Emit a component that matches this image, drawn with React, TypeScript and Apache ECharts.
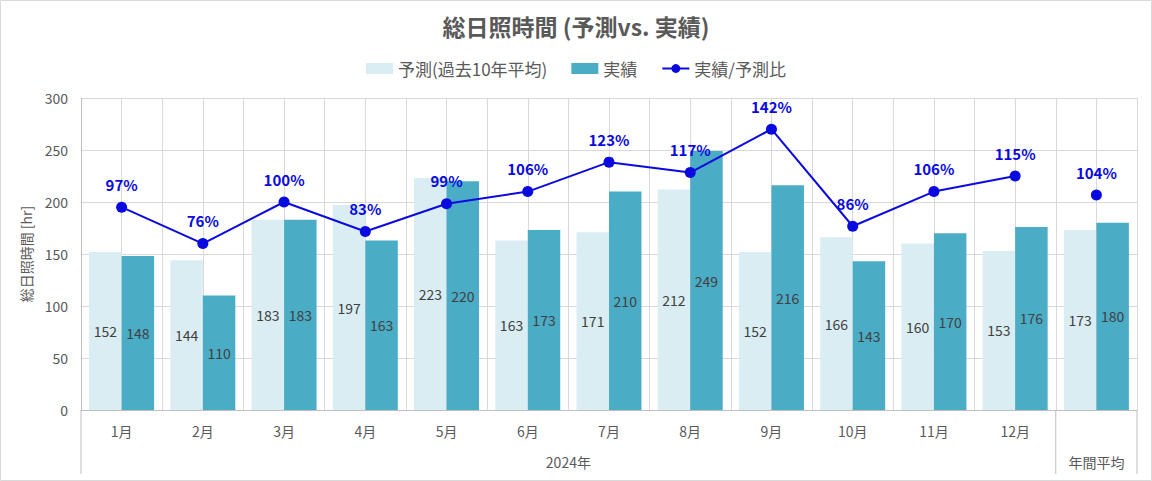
import React, { useEffect, useRef } from 'react';
import * as echarts from 'echarts';

const categories = ['1月', '2月', '3月', '4月', '5月', '6月', '7月', '8月', '9月', '10月', '11月', '12月', ''];
const groupLabels = ['2024年', '年間平均'];
const forecast = [152, 144, 183, 197, 223, 163, 171, 212, 152, 166, 160, 153, 173];
const actual = [148, 110, 183, 163, 220, 173, 210, 249, 216, 143, 170, 176, 180];
const ratio = [97, 76, 100, 83, 99, 106, 123, 117, 142, 86, 106, 115, 104];

const W = 1152;
const H = 481;
const GL = 81;
const GR = 15;
const GT = 98;
const GB = 71;

export default function App() {
  const ref = useRef<HTMLDivElement>(null);
  useEffect(() => {
    document.body.style.margin = '0';
    const chart = echarts.init(ref.current!, null, { renderer: 'svg' });
    const font = "'Noto Sans CJK JP', 'Noto Sans', sans-serif";
    const plotW = W - GL - GR;
    const catW = plotW / categories.length;
    const axisY = H - GB;
    const blue = '#0a0ae0';
    const monthRatio = ratio.map((v, i) => (i < 12 ? v : '-'));
    const avgRatio = ratio.map((v, i) => (i === 12 ? v : '-'));
    const halfCats = Array.from({ length: categories.length * 2 }, (_, i) => String(i));
    const lineLabel = {
      show: true,
      position: 'top',
      distance: 10,
      formatter: '{c}%',
      color: blue,
      fontSize: 15,
      fontWeight: 'bold',
      fontFamily: font,
    };
    const barLabel = { show: true, position: 'inside', color: '#404040', fontSize: 14, fontFamily: font };
    chart.setOption({
      animation: false,
      textStyle: { fontFamily: font },
      title: {
        text: '総日照時間 (予測vs. 実績)',
        left: 'center',
        top: 9,
        textStyle: { fontSize: 23, fontWeight: 'bold', color: '#595959', fontFamily: font },
      },
      legend: {
        top: 55,
        left: 'center',
        itemWidth: 27,
        itemHeight: 11,
        itemGap: 24,
        textStyle: { fontSize: 17, color: '#595959', fontFamily: font },
        data: [
          { name: '予測(過去10年平均)', icon: 'rect' },
          { name: '実績', icon: 'rect' },
          { name: '実績/予測比' },
        ],
      },
      grid: { left: GL, right: GR, top: GT, bottom: GB, containLabel: false },
      xAxis: [
        {
          type: 'category',
          data: categories,
          axisLine: { show: true, lineStyle: { color: '#bfbfbf' } },
          axisTick: { show: false },
          axisLabel: { color: '#595959', fontSize: 14, margin: 14, fontFamily: font },
          splitLine: { show: false },
        },
        {
          type: 'category',
          data: halfCats,
          position: 'bottom',
          axisLine: { show: false },
          axisTick: { show: false },
          axisLabel: { show: false },
          splitLine: { show: true, interval: 0, lineStyle: { color: '#d9d9d9' } },
        },
      ],
      yAxis: [
        {
          type: 'value',
          min: 0,
          max: 300,
          interval: 50,
          name: '総日照時間 [hr]',
          nameLocation: 'middle',
          nameRotate: 90,
          nameGap: 48,
          nameTextStyle: { color: '#595959', fontSize: 14, fontFamily: font },
          axisLine: { show: true, lineStyle: { color: '#bfbfbf' } },
          axisTick: { show: false },
          axisLabel: { color: '#595959', fontSize: 14, margin: 13, fontFamily: font },
          splitLine: { show: true, lineStyle: { color: '#d9d9d9' } },
        },
        { type: 'value', min: -20, max: 160, show: false },
      ],
      series: [
        {
          name: '予測(過去10年平均)',
          type: 'bar',
          data: forecast,
          barGap: '0%',
          barCategoryGap: '20%',
          itemStyle: { color: '#daedf3' },
          label: barLabel,
          z: 2,
        },
        {
          name: '実績',
          type: 'bar',
          data: actual,
          barGap: '0%',
          barCategoryGap: '20%',
          itemStyle: { color: '#4bacc6' },
          label: barLabel,
          z: 2,
        },
        {
          name: '実績/予測比',
          type: 'line',
          yAxisIndex: 1,
          data: monthRatio,
          symbol: 'circle',
          symbolSize: 11,
          connectNulls: false,
          lineStyle: { color: blue, width: 2 },
          itemStyle: { color: blue },
          label: lineLabel,
          z: 5,
        },
        {
          name: '実績/予測比',
          type: 'line',
          yAxisIndex: 1,
          data: avgRatio,
          symbol: 'circle',
          symbolSize: 11,
          lineStyle: { color: blue, width: 2 },
          itemStyle: { color: blue },
          label: lineLabel,
          z: 5,
        },
      ],
      graphic: [
        {
          type: 'rect',
          shape: { x: 0.5, y: 0.5, width: W - 1, height: H - 1 },
          style: { fill: 'none', stroke: '#d9d9d9', lineWidth: 1 },
          silent: true,
        },
        {
          type: 'line',
          shape: { x1: GL, y1: axisY, x2: GL, y2: axisY + 64 },
          style: { stroke: '#bfbfbf', lineWidth: 1 },
        },
        {
          type: 'line',
          shape: { x1: GL + catW * 12, y1: axisY, x2: GL + catW * 12, y2: axisY + 64 },
          style: { stroke: '#bfbfbf', lineWidth: 1 },
        },
        {
          type: 'line',
          shape: { x1: GL + plotW, y1: axisY, x2: GL + plotW, y2: axisY + 64 },
          style: { stroke: '#bfbfbf', lineWidth: 1 },
        },
        {
          type: 'text',
          x: GL + catW * 6,
          y: axisY + 52,
          style: {
            text: groupLabels[0],
            fill: '#595959',
            fontSize: 14,
            fontFamily: font,
            textAlign: 'center',
            textVerticalAlign: 'middle',
          },
        },
        {
          type: 'text',
          x: GL + catW * 12.5,
          y: axisY + 52,
          style: {
            text: groupLabels[1],
            fill: '#595959',
            fontSize: 14,
            fontFamily: font,
            textAlign: 'center',
            textVerticalAlign: 'middle',
          },
        },
      ],
    });
    return () => chart.dispose();
  }, []);
  return <div ref={ref} style={{ width: W, height: H }} />;
}
